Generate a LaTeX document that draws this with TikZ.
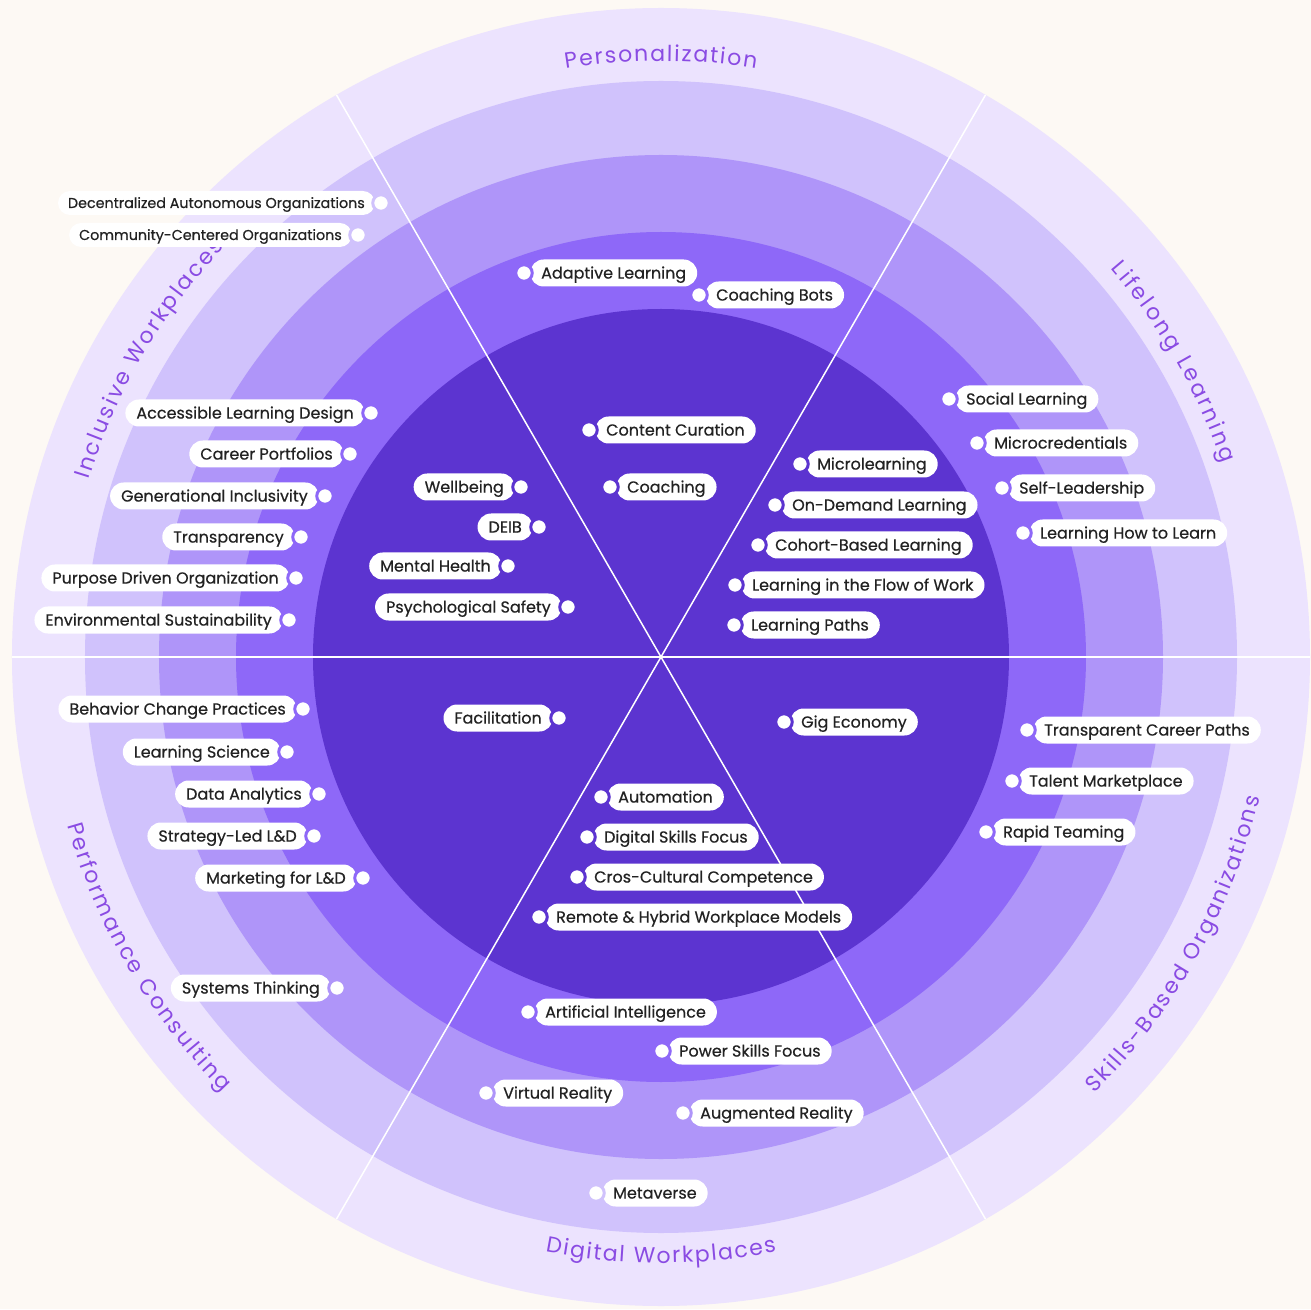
\documentclass[tikz,border=0pt]{standalone}
\usepackage{fontspec}
\setmainfont{Poppins}
\newfontfamily\catfont{Poppins}
\newfontfamily\pillfont{Poppins}[FakeBold=0.5]
\usepackage{xcolor}
\definecolor{bgcream}{HTML}{FDF9F4}
\definecolor{ringone}{HTML}{ECE3FE}
\definecolor{ringtwo}{HTML}{D0C2FC}
\definecolor{ringthree}{HTML}{AF95F9}
\definecolor{ringfour}{HTML}{8E68F8}
\definecolor{ringfive}{HTML}{5C34D0}
\definecolor{catpurple}{HTML}{8A4BE3}
\definecolor{pilltext}{HTML}{222222}
\usetikzlibrary{positioning, decorations.text}
\tikzset{
  pill/.style={
    rectangle, rounded corners=13.5pt, fill=white, minimum height=27pt,
    inner xsep=11pt, inner ysep=0pt, text height=11.2pt, text depth=0pt,
    text=pilltext, font=\pillfont\fontsize{16}{19}\selectfont
  },
  smallpill/.style={
    pill, rounded corners=12pt, minimum height=24pt, inner xsep=10pt,
    text height=10pt, font=\pillfont\fontsize{14.3}{17}\selectfont
  },
  pilldot/.style={
    circle, fill=white, draw=#1, line width=3pt, minimum size=16.5pt, inner sep=0pt
  },
  spoke/.style={white, line width=1.5pt},
  sector/.style={
    decorate, decoration={text along path, text align={fit to path},
      text color=catpurple, text={|\catfont\fontsize{22}{26}\selectfont|#1}}
  }
}

\begin{document}
\begin{tikzpicture}[x=1pt, y=1pt]

% ── Canvas ───────────────────────────────────────────────────────────────────
\useasboundingbox (-661,-652) rectangle (650,657);
\fill[bgcream] (-661,-652) rectangle (650,657);
\coordinate (hub) at (0,0);

% ── Rings (outer to inner) ───────────────────────────────────────────────────
\fill[ringone]   (hub) circle (649);
\fill[ringtwo]   (hub) circle (576);
\fill[ringthree] (hub) circle (502);
\fill[ringfour]  (hub) circle (425);
\fill[ringfive]  (hub) circle (348);

% ── Sector spokes ────────────────────────────────────────────────────────────
\draw[spoke] (180:649) -- (0:649);
\draw[spoke] (120:649) -- (300:649);
\draw[spoke] (60:649) -- (240:649);

% ── Sector titles on the outer ring ──────────────────────────────────────────
\path[sector=Personalization] (99.2:596) arc[start angle=99.2, end angle=80.8, radius=596];
\path[sector=Lifelong Learning] (40.8:594) arc[start angle=40.8, end angle=19, radius=594];
\path[sector=Inclusive Workplaces] (162.8:599) arc[start angle=162.8, end angle=136.8, radius=599];
\path[sector=Digital Workplaces] (259:606) arc[start angle=259, end angle=281, radius=606];
\path[sector=Performance Consulting] (195.8:617) arc[start angle=195.8, end angle=224.8, radius=617];
\path[sector=Skills-Based Organizations] (314.8:615) arc[start angle=314.8, end angle=346.8, radius=615];

% ── Inclusive Workplaces ─────────────────────────────────────────────────────
\node[smallpill, anchor=east] (dao) at (-286,454) {Decentralized Autonomous Organizations};
\node[pilldot=ringtwo] (daodot) at ([xshift=6pt]dao.east) {};
\node[smallpill, anchor=east] (community) at (-309,422) {Community-Centered Organizations};
\node[pilldot=ringtwo] (communitydot) at ([xshift=6pt]community.east) {};
\node[pill, anchor=east] (accessible) at (-296,244) {Accessible Learning Design};
\node[pilldot=ringfour] (accessibledot) at ([xshift=6pt]accessible.east) {};
\node[pill, anchor=east] (portfolios) at (-317,203) {Career Portfolios};
\node[pilldot=ringfour] (portfoliosdot) at ([xshift=6pt]portfolios.east) {};
\node[pill, anchor=east] (generational) at (-342,161) {Generational Inclusivity};
\node[pilldot=ringfour] (generationaldot) at ([xshift=6pt]generational.east) {};
\node[pill, anchor=east] (transparency) at (-366,120) {Transparency};
\node[pilldot=ringfour] (transparencydot) at ([xshift=6pt]transparency.east) {};
\node[pill, anchor=east] (purpose) at (-371,79) {Purpose Driven Organization};
\node[pilldot=ringfour] (purposedot) at ([xshift=6pt]purpose.east) {};
\node[pill, anchor=east] (environment) at (-378,37) {Environmental Sustainability};
\node[pilldot=ringfour] (environmentdot) at ([xshift=6pt]environment.east) {};
\node[pill, anchor=east] (wellbeing) at (-146,170) {Wellbeing};
\node[pilldot=ringfive] (wellbeingdot) at ([xshift=6pt]wellbeing.east) {};
\node[pill, anchor=east] (deib) at (-128,130) {DEIB};
\node[pilldot=ringfive] (deibdot) at ([xshift=6pt]deib.east) {};
\node[pill, anchor=east] (mental) at (-159,91) {Mental Health};
\node[pilldot=ringfive] (mentaldot) at ([xshift=6pt]mental.east) {};
\node[pill, anchor=east] (safety) at (-99,50) {Psychological Safety};
\node[pilldot=ringfive] (safetydot) at ([xshift=6pt]safety.east) {};

% ── Performance Consulting ───────────────────────────────────────────────────
\node[pill, anchor=east] (facilitation) at (-108,-61) {Facilitation};
\node[pilldot=ringfive] (facilitationdot) at ([xshift=6pt]facilitation.east) {};
\node[pill, anchor=east] (behavior) at (-364,-52) {Behavior Change Practices};
\node[pilldot=ringfour] (behaviordot) at ([xshift=6pt]behavior.east) {};
\node[pill, anchor=east] (science) at (-380,-95) {Learning Science};
\node[pilldot=ringfour] (sciencedot) at ([xshift=6pt]science.east) {};
\node[pill, anchor=east] (analytics) at (-348,-137) {Data Analytics};
\node[pilldot=ringfour] (analyticsdot) at ([xshift=6pt]analytics.east) {};
\node[pill, anchor=east] (strategy) at (-353,-179) {Strategy-Led L\&D};
\node[pilldot=ringfour] (strategydot) at ([xshift=6pt]strategy.east) {};
\node[pill, anchor=east] (marketing) at (-304,-221) {Marketing for L\&D};
\node[pilldot=ringfour] (marketingdot) at ([xshift=6pt]marketing.east) {};
\node[pill, anchor=east] (systems) at (-330,-331) {Systems Thinking};
\node[pilldot=ringthree] (systemsdot) at ([xshift=6pt]systems.east) {};

% ── Personalization ──────────────────────────────────────────────────────────
\node[pill, anchor=west] (adaptive) at (-131,384) {Adaptive Learning};
\node[pilldot=ringfour] (adaptivedot) at ([xshift=-6pt]adaptive.west) {};
\node[pill, anchor=west] (bots) at (44,362) {Coaching Bots};
\node[pilldot=ringfour] (botsdot) at ([xshift=-6pt]bots.west) {};
\node[pill, anchor=west] (curation) at (-66,227) {Content Curation};
\node[pilldot=ringfive] (curationdot) at ([xshift=-6pt]curation.west) {};
\node[pill, anchor=west] (coaching) at (-45,170) {Coaching};
\node[pilldot=ringfive] (coachingdot) at ([xshift=-6pt]coaching.west) {};

% ── Lifelong Learning ────────────────────────────────────────────────────────
\node[pill, anchor=west] (social) at (294,258) {Social Learning};
\node[pilldot=ringfour] (socialdot) at ([xshift=-6pt]social.west) {};
\node[pill, anchor=west] (microcred) at (322,214) {Microcredentials};
\node[pilldot=ringfour] (microcreddot) at ([xshift=-6pt]microcred.west) {};
\node[pill, anchor=west] (selflead) at (347,169) {Self-Leadership};
\node[pilldot=ringfour] (selfleaddot) at ([xshift=-6pt]selflead.west) {};
\node[pill, anchor=west] (howto) at (368,124) {Learning How to Learn};
\node[pilldot=ringfour] (howtodot) at ([xshift=-6pt]howto.west) {};
\node[pill, anchor=west] (microlearn) at (145,193) {Microlearning};
\node[pilldot=ringfive] (microlearndot) at ([xshift=-6pt]microlearn.west) {};
\node[pill, anchor=west] (ondemand) at (120,152) {On-Demand Learning};
\node[pilldot=ringfive] (ondemanddot) at ([xshift=-6pt]ondemand.west) {};
\node[pill, anchor=west] (cohort) at (103,112) {Cohort-Based Learning};
\node[pilldot=ringfive] (cohortdot) at ([xshift=-6pt]cohort.west) {};
\node[pill, anchor=west] (flow) at (80,72) {Learning in the Flow of Work};
\node[pilldot=ringfive] (flowdot) at ([xshift=-6pt]flow.west) {};
\node[pill, anchor=west] (paths) at (79,32) {Learning Paths};
\node[pilldot=ringfive] (pathsdot) at ([xshift=-6pt]paths.west) {};

% ── Skills-Based Organizations ───────────────────────────────────────────────
\node[pill, anchor=west] (gig) at (129,-65) {Gig Economy};
\node[pilldot=ringfive] (gigdot) at ([xshift=-6pt]gig.west) {};
\node[pill, anchor=west] (career) at (372,-73) {Transparent Career Paths};
\node[pilldot=ringfour] (careerdot) at ([xshift=-6pt]career.west) {};
\node[pill, anchor=west] (talent) at (357,-124) {Talent Marketplace};
\node[pilldot=ringfour] (talentdot) at ([xshift=-6pt]talent.west) {};
\node[pill, anchor=west] (teaming) at (331,-175) {Rapid Teaming};
\node[pilldot=ringfour] (teamingdot) at ([xshift=-6pt]teaming.west) {};

% ── Digital Workplaces ───────────────────────────────────────────────────────
\node[pill, anchor=west] (automation) at (-54,-140) {Automation};
\node[pilldot=ringfive] (automationdot) at ([xshift=-6pt]automation.west) {};
\node[pill, anchor=west] (digital) at (-68,-180) {Digital Skills Focus};
\node[pilldot=ringfive] (digitaldot) at ([xshift=-6pt]digital.west) {};
\node[pill, anchor=west] (crosscult) at (-78,-220) {Cros-Cultural Competence};
\node[pilldot=ringfive] (crosscultdot) at ([xshift=-6pt]crosscult.west) {};
\node[pill, anchor=west] (hybrid) at (-116,-260) {Remote \& Hybrid Workplace Models};
\node[pilldot=ringfive] (hybriddot) at ([xshift=-6pt]hybrid.west) {};
\node[pill, anchor=west] (ai) at (-127,-355) {Artificial Intelligence};
\node[pilldot=ringfour] (aidot) at ([xshift=-6pt]ai.west) {};
\node[pill, anchor=west] (power) at (7,-394) {Power Skills Focus};
\node[pilldot=ringfour] (powerdot) at ([xshift=-6pt]power.west) {};
\node[pill, anchor=west] (vr) at (-169,-436) {Virtual Reality};
\node[pilldot=ringthree] (vrdot) at ([xshift=-6pt]vr.west) {};
\node[pill, anchor=west] (ar) at (28,-456) {Augmented Reality};
\node[pilldot=ringthree] (ardot) at ([xshift=-6pt]ar.west) {};
\node[pill, anchor=west] (metaverse) at (-59,-536) {Metaverse};
\node[pilldot=ringtwo] (metaversedot) at ([xshift=-6pt]metaverse.west) {};

\end{tikzpicture}
\end{document}
